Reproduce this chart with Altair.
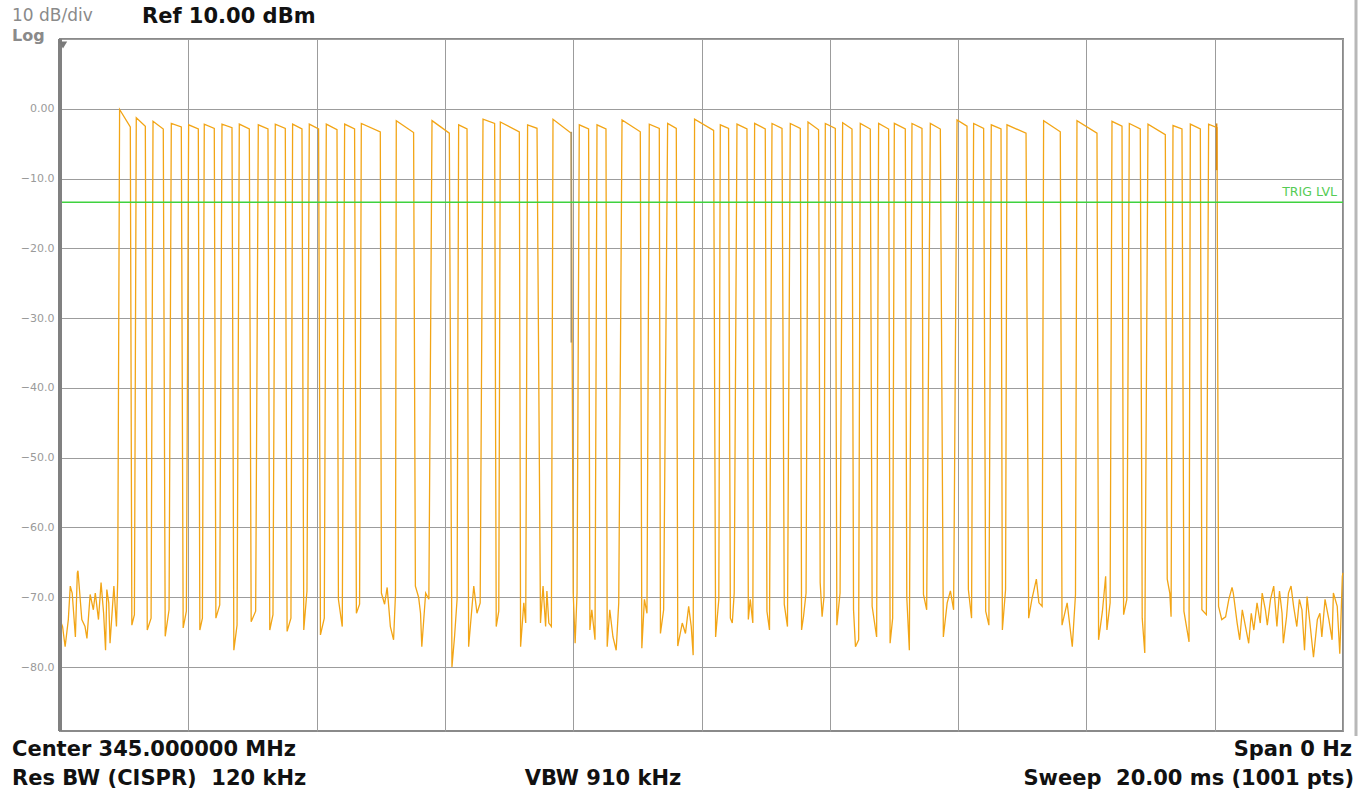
import altair as alt
import pandas as pd

# ---------------- data ----------------
# pulse rising / falling edges (ms) and top levels (dBm)
rise_ms = [0.929, 1.189, 1.450, 1.735, 2.005, 2.249, 2.525, 2.795, 3.091, 3.356,
           3.626, 3.886, 4.151, 4.437, 4.697, 5.242, 5.799, 6.214, 6.594, 6.864,
           7.289, 7.685, 8.095, 8.371, 8.761, 9.186, 9.472, 9.892, 10.293, 10.553,
           10.828, 11.099, 11.384, 11.660, 11.930, 12.200, 12.475, 12.761, 13.006, 13.281,
           13.567, 13.983, 14.242, 14.517, 14.762, 15.333, 15.853, 16.399, 16.669, 16.960,
           17.350, 17.620, 17.905]
fall_ms = [1.096, 1.330, 1.610, 1.891, 2.156, 2.405, 2.681, 2.951, 3.242, 3.512,
           3.772, 4.031, 4.318, 4.592, 4.993, 5.512, 6.069, 6.345, 6.775, 7.160,
           7.436, 7.970, 8.240, 8.511, 9.046, 9.342, 9.607, 10.189, 10.422, 10.709,
           10.994, 11.255, 11.540, 11.825, 12.086, 12.346, 12.631, 12.917, 13.177, 13.437,
           13.723, 14.139, 14.398, 14.669, 15.059, 15.593, 16.165, 16.555, 16.840, 17.230,
           17.490, 17.776, 18.036]
peak_db = [-0.1, -1.3, -1.8, -2.1, -2.3, -2.2, -2.2, -2.2, -2.3, -2.2,
           -2.2, -2.2, -2.2, -2.2, -2.1, -1.7, -1.7, -2.3, -1.5, -1.9,
           -2.3, -1.5, -2.3, -2.3, -1.6, -2.2, -2.1, -1.5, -2.3, -2.2,
           -2.1, -2.1, -2.1, -1.9, -2.1, -2.0, -2.1, -2.1, -2.1, -2.1,
           -2.1, -1.6, -2.1, -2.3, -2.3, -1.7, -1.7, -1.8, -2.1, -2.2,
           -2.4, -2.2, -2.2]
end_db = [-2.6, -2.5, -2.9, -2.6, -2.9, -2.8, -2.7, -2.9, -2.9, -2.8,
          -2.9, -2.9, -3.0, -2.9, -3.3, -3.4, -3.5, -2.9, -2.1, -3.3,
          -2.8, -3.5, -2.9, -2.9, -3.3, -2.8, -2.8, -3.1, -2.8, -2.9,
          -2.9, -2.8, -2.8, -3.0, -2.8, -2.9, -2.9, -2.9, -2.9, -2.8,
          -2.9, -2.5, -2.8, -2.9, -3.5, -3.3, -3.5, -2.5, -2.9, -3.7,
          -2.9, -2.9, -2.7]

# noise-floor samples between pulses (ms, dBm)
noise_ms = [0.00, 0.04, 0.08, 0.13, 0.16, 0.19, 0.24, 0.27, 0.28, 0.34,
            0.39, 0.42, 0.47, 0.52, 0.55, 0.60, 0.64, 0.68, 0.71, 0.73,
            0.76, 0.78, 0.84, 0.88, 0.90,
            1.12, 1.16, 1.36, 1.42, 1.64, 1.70, 1.92, 1.97, 2.18, 2.22,
            2.43, 2.49, 2.71, 2.76, 2.98, 3.05, 3.27, 3.32, 3.54, 3.60,
            3.80, 3.85, 4.06, 4.12, 4.34, 4.40, 4.62, 4.67,
            5.01, 5.06, 5.10, 5.15, 5.20, 5.23,
            5.54, 5.59, 5.62, 5.64, 5.70, 5.75,
            6.11, 6.15, 6.19, 6.37, 6.45, 6.50, 6.55, 6.80, 6.84,
            7.18, 7.23, 7.26, 7.49, 7.53, 7.57, 7.59, 7.62, 7.66,
            8.00, 8.03, 8.06, 8.26, 8.29, 8.34,
            8.53, 8.57, 8.62, 8.67, 8.71, 9.07, 9.11, 9.15, 9.36, 9.41,
            9.63, 9.70, 9.75, 9.80, 9.84, 9.87,
            10.22, 10.27, 10.45, 10.48, 10.51, 10.73, 10.76, 10.80,
            11.02, 11.06, 11.29, 11.34, 11.56, 11.59, 11.63, 11.85, 11.88, 11.91,
            12.11, 12.16, 12.37, 12.40, 12.45, 12.66, 12.73, 12.94, 12.98,
            13.20, 13.24, 13.46, 13.51, 13.77, 13.83, 13.88, 13.93,
            14.16, 14.21, 14.43, 14.48, 14.69, 14.74,
            15.10, 15.15, 15.22, 15.26, 15.31, 15.62, 15.70, 15.78, 15.83,
            16.19, 16.25, 16.30, 16.32, 16.37, 16.58, 16.63, 16.87, 16.91,
            17.26, 17.30, 17.32, 17.52, 17.60, 17.80, 17.87,
            18.06, 18.11, 18.17, 18.22, 18.27, 18.29, 18.35, 18.39, 18.43, 18.48,
            18.53, 18.57, 18.61, 18.66, 18.71, 18.74, 18.79, 18.82, 18.87, 18.92,
            18.97, 19.01, 19.05, 19.07, 19.12, 19.15, 19.19, 19.23, 19.28, 19.32,
            19.36, 19.40, 19.44, 19.49, 19.54, 19.60, 19.64, 19.67, 19.72, 19.78,
            19.83, 19.85, 19.91, 19.95, 19.99, 20.00]
noise_db = [-73.2, -74.2, -77.1, -73.2, -68.4, -69.4, -75.7, -66.5, -66.2, -73.2,
            -74.2, -75.9, -69.6, -71.8, -69.4, -73.2, -67.9, -72.3, -77.6, -68.9,
            -70.8, -76.6, -68.4, -74.2, -67.4,
            -74.0, -72.5, -74.7, -73.0, -75.6, -71.8, -74.4, -72.0, -74.7, -73.0,
            -73.0, -71.1, -77.6, -74.0, -73.5, -72.0, -74.7, -72.5, -74.9, -73.0,
            -74.7, -69.1, -75.4, -73.0, -70.3, -74.2, -72.3, -71.0,
            -69.4, -71.0, -68.6, -74.2, -76.1, -69.5,
            -68.4, -70.0, -72.3, -77.1, -69.4, -70.3,
            -80.0, -75.7, -70.3, -77.1, -68.4, -72.3, -70.8, -74.2, -72.0,
            -77.1, -70.8, -73.7, -73.7, -68.4, -74.2, -69.1, -73.7, -74.2,
            -69.4, -76.6, -69.4, -74.7, -71.8, -76.1,
            -77.1, -71.8, -75.7, -77.6, -70.8, -77.3, -70.3, -72.3, -75.2, -71.8,
            -77.0, -73.7, -75.2, -71.3, -74.2, -78.3,
            -75.7, -70.3, -73.0, -73.7, -69.4, -73.2, -70.3, -73.7,
            -72.0, -74.7, -71.0, -74.2, -74.7, -72.8, -69.4, -67.9, -72.8, -69.9,
            -74.0, -69.4, -71.8, -77.1, -76.1, -71.3, -75.7, -76.6, -73.0,
            -70.0, -77.6, -69.6, -71.8, -75.7, -70.8, -69.1, -71.8,
            -68.9, -73.0, -72.0, -74.0, -74.7, -68.9,
            -73.0, -70.3, -67.4, -70.8, -71.3, -74.0, -70.8, -77.1, -69.6,
            -76.1, -72.0, -67.0, -74.7, -70.8, -72.5, -70.3, -73.0, -78.0,
            -67.4, -69.4, -72.8, -72.0, -76.4, -71.8, -72.5,
            -71.3, -73.2, -72.8, -70.3, -68.6, -69.4, -73.7, -76.1, -71.8, -74.2,
            -76.6, -72.3, -74.7, -70.8, -73.7, -69.4, -71.8, -74.0, -70.3, -68.4,
            -74.2, -69.1, -72.3, -76.6, -72.8, -69.4, -68.4, -71.3, -74.2, -70.3,
            -71.8, -77.6, -69.9, -74.2, -78.6, -73.2, -72.3, -75.7, -70.3, -73.2,
            -76.1, -69.4, -71.3, -78.1, -67.0, -66.5]

trig_db = -13.4
grid_ms = [0, 2, 4, 6, 8, 10, 12, 14, 16, 18, 20]
ytick_db = [10, 0, -10, -20, -30, -40, -50, -60, -70, -80]

# short darker marks seen on the trace
mark_ms = [7.970, 18.030]
mark_top_db = [-3.3, -2.1]
mark_bot_db = [-33.5, -8.8]
mark_col = ["#a8946a", "#e08c10"]

# ---------------- build trace ----------------
pts = [(t, v, 0) for t, v in zip(noise_ms, noise_db)]
for r, f, p, e in zip(rise_ms, fall_ms, peak_db, end_db):
    pts.append((r, p, 1))
    pts.append((f, e, 2))
pts.sort(key=lambda a: (a[0], a[2]))
trace = pd.DataFrame({"t": [a[0] for a in pts], "db": [a[1] for a in pts],
                      "i": list(range(len(pts)))})

XS = alt.Scale(domain=[0, 20], nice=False, zero=False)
YS = alt.Scale(domain=[-89.17, 10], nice=False, zero=False)

x_axis = alt.Axis(values=grid_ms, labels=False, ticks=False, domain=False, title=None,
                  grid=True, gridColor="#9c9c9c", gridWidth=1, gridOpacity=1)
y_axis = alt.Axis(values=ytick_db, ticks=False, domain=False, title=None, grid=True,
                  gridColor="#9c9c9c", gridWidth=1, gridOpacity=1,
                  labelExpr="datum.value == 0 ? '0.00' : (datum.value > 0 ? '' : format(datum.value, '.1f'))",
                  labelColor="#9a9a9a", labelFont="DejaVu Sans", labelFontSize=11,
                  labelPadding=6)

line = alt.Chart(trace).mark_line(color="#f2a516", strokeWidth=1.3).encode(
    x=alt.X("t:Q", scale=XS, axis=x_axis),
    y=alt.Y("db:Q", scale=YS, axis=y_axis),
    order="i:Q",
)

marks_df = pd.DataFrame({"t": mark_ms, "a": mark_top_db, "b": mark_bot_db, "c": mark_col})
dark = alt.Chart(marks_df).mark_rule(strokeWidth=1.6).encode(
    x=alt.X("t:Q", scale=XS), y=alt.Y("a:Q", scale=YS), y2="b:Q",
    color=alt.Color("c:N", scale=None),
)

trig = alt.Chart(pd.DataFrame({"v": [trig_db]})).mark_rule(
    color="#3fd23f", strokeWidth=1.5).encode(y=alt.Y("v:Q", scale=YS))
trig_lbl = alt.Chart(pd.DataFrame({"v": [trig_db], "s": ["TRIG LVL"]})).mark_text(
    align="right", baseline="bottom", font="DejaVu Sans", fontSize=12.5, color="#55cc55",
    dy=-3).encode(x=alt.value(1277), y=alt.Y("v:Q", scale=YS), text="s:N")

left_bar = alt.Chart(pd.DataFrame({"k": [0]})).mark_rule(color="#808080", strokeWidth=4).encode(
    x=alt.value(0), y=alt.value(0), y2=alt.value(692))
tri = alt.Chart(pd.DataFrame({"k": [0]})).mark_point(
    shape="triangle-down", filled=True, color="#7a7a7a", size=70, opacity=1).encode(
    x=alt.value(3), y=alt.value(6))
right_bar = alt.Chart(pd.DataFrame({"k": [0]})).mark_rule(color="#b8b8b8", strokeWidth=3).encode(
    x=alt.value(1296), y=alt.value(-39), y2=alt.value(697))

NB = "\u00a0"
texts = pd.DataFrame({
    "s": ["10 dB/div", "Log", "Ref 10.00 dBm", "Center 345.000000 MHz",
          "Res BW (CISPR) " + NB + "120 kHz", "VBW 910 kHz", "Span 0 Hz",
          "Sweep " + NB + "20.00 ms (1001 pts)"],
    "x": [-48, -48, 82, -48, -48, 543, 1292, 1294],
    "y": [-23, -3, -22, 711, 740, 740, 711, 740],
})


def txt(row, align, size, weight, color):
    return alt.Chart(pd.DataFrame({"s": [row["s"]]})).mark_text(
        align=align, baseline="middle", font="DejaVu Sans", fontSize=size,
        fontWeight=weight, color=color).encode(
        x=alt.value(row["x"]), y=alt.value(row["y"]), text="s:N")


styles = [("left", 17, "normal", "#8a8a8a"), ("left", 16, "bold", "#8a8a8a"),
          ("left", 21, "bold", "#111111"), ("left", 21, "bold", "#111111"),
          ("left", 21, "bold", "#111111"), ("center", 21, "bold", "#111111"),
          ("right", 21, "bold", "#111111"), ("right", 21, "bold", "#111111")]
text_layers = [txt(texts.iloc[k], *styles[k]) for k in range(len(styles))]

chart = alt.layer(line, dark, trig, trig_lbl, left_bar, tri, right_bar, *text_layers).properties(
    width=1283, height=692,
    padding={"left": 60, "top": 39, "right": 18, "bottom": 68},
    autosize=alt.AutoSizeParams(type="none"),
    background="#ffffff",
).configure_view(stroke="#8a8a8a", strokeWidth=2)

chart.save("out.html", embed_options={"renderer": "svg", "actions": False})
